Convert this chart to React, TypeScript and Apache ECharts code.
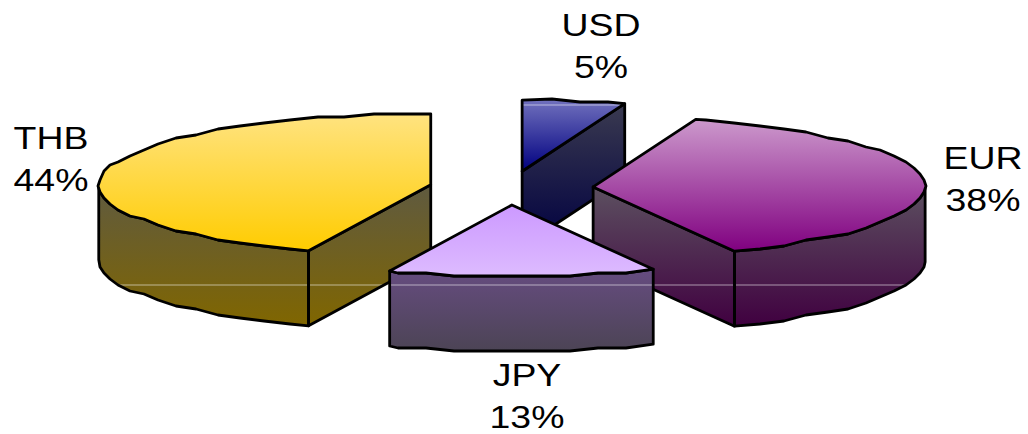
import React, { useEffect, useRef } from "react";
import * as echarts from "echarts";

// Currency split, clockwise from twelve o'clock.
const categories = ["USD", "EUR", "JPY", "THB"];
const shares = [5, 38, 13, 44];

// Back-to-front paint order of the exploded wedges, by category index.
const paintOrder = [0, 3, 1, 2];

// Projection of the tilted pie.
const PIE = { cx: 511.3, cy: 188, rx: 332, ry: 71, explodeX: 82, explodeY: 17, depth: 75 };
// Small sideways corrections of individual wedges.
const wedgeNudgeX: Record<string, number> = { USD: -2, EUR: 0, JPY: -2, THB: 0 };
// Coarse plotting grid that gives the rim its stepped outline.
const RIM = { stepDeg: 5, gridX: 2, gridY: 3 };
// Horizontal seams left in the gradient fills.
const SEAM_YS = [105, 285];

const LABEL_SCALE_X = 1.17;
const labelLineGap = 42;
const labelAnchors: Record<string, [number, number]> = {
  USD: [601, 46],
  EUR: [983, 179],
  JPY: [527, 396],
  THB: [51, 159],
};

const palette: Record<string, { top: [string, string]; side: [string, string] }> = {
  USD: { top: ["#7272BE", "#000080"], side: ["#3A3A50", "#000040"] },
  EUR: { top: ["#CC99CC", "#800080"], side: ["#5C5060", "#400040"] },
  JPY: { top: ["#CC99FF", "#DDBBFF"], side: ["#664C80", "#4C4455"] },
  THB: { top: ["#FFE380", "#FFCC00"], side: ["#5F5A40", "#806600"] },
};

type Pt = [number, number];
const rad = (d: number) => (d * Math.PI) / 180;

function rimPoints(cx: number, cy: number, from: number, to: number, dy = 0): Pt[] {
  const pts: Pt[] = [];
  const at = (t: number): Pt => [cx + PIE.rx * Math.sin(rad(t)), cy - PIE.ry * Math.cos(rad(t))];
  pts.push(at(from));
  const first = Math.ceil((from + 1) / RIM.stepDeg) * RIM.stepDeg;
  for (let t = first; t < to - 1; t += RIM.stepDeg) {
    const [x, y] = at(t);
    pts.push([Math.round(x / RIM.gridX) * RIM.gridX, Math.round(y / RIM.gridY) * RIM.gridY]);
  }
  pts.push(at(to));
  return pts.map(([x, y]) => [x, y + dy] as Pt);
}

function crossing(poly: Pt[], y: number): [number, number] | null {
  let lo = Infinity;
  let hi = -Infinity;
  poly.forEach((a, i) => {
    const b = poly[(i + 1) % poly.length];
    if ((a[1] - y) * (b[1] - y) <= 0 && a[1] !== b[1]) {
      const x = a[0] + ((y - a[1]) / (b[1] - a[1])) * (b[0] - a[0]);
      lo = Math.min(lo, x);
      hi = Math.max(hi, x);
    }
  });
  return hi > lo ? [lo, hi] : null;
}

const fillOf = (polys: Pt[][], stops: [string, string]) => {
  const ys = polys.flat().map((p) => p[1]);
  return new echarts.graphic.LinearGradient(
    0,
    Math.min(...ys),
    0,
    Math.max(...ys),
    [
      { offset: 0, color: stops[0] },
      { offset: 1, color: stops[1] },
    ],
    true
  );
};

function renderWedge(_params: any, api: any) {
  const index = api.value(0);
  const total = shares.reduce((a, b) => a + b, 0);
  const before = shares.slice(0, index).reduce((a, b) => a + b, 0);
  const start = (before / total) * 360;
  const end = ((before + api.value(1)) / total) * 360;
  const mid = (start + end) / 2;
  const name = categories[index];
  const cx = PIE.cx + PIE.explodeX * Math.sin(rad(mid)) + wedgeNudgeX[name];
  const cy = PIE.cy - PIE.explodeY * Math.cos(rad(mid));
  const colors = palette[name];
  const d = PIE.depth;
  const tip = (t: number): Pt => [cx + PIE.rx * Math.sin(rad(t)), cy - PIE.ry * Math.cos(rad(t))];

  // Faces turned towards the viewer: cut faces and the front part of the rim.
  const sides: Pt[][] = [];
  const cutFace = (t: number): Pt[] => {
    const p = tip(t);
    return [[cx, cy], p, [p[0], p[1] + d], [cx, cy + d]];
  };
  if (Math.sin(rad(start)) < -1e-6) sides.push(cutFace(start));
  if (Math.sin(rad(end)) > 1e-6) sides.push(cutFace(end));
  const frontFrom = Math.max(start, 90);
  const frontTo = Math.min(end, 270);
  if (frontTo > frontFrom) {
    const upper = rimPoints(cx, cy, frontFrom, frontTo);
    const lower = rimPoints(cx, cy, frontFrom, frontTo, d);
    sides.push([...upper, ...lower.reverse()]);
  }
  const topFace: Pt[] = [[cx, cy], ...rimPoints(cx, cy, start, end)];

  const base = paintOrder.indexOf(index) * 10;
  const children: any[] = [];
  const outline = { stroke: "#000", lineWidth: 2.8, lineJoin: "round" };
  const sideFill = sides.length ? fillOf(sides, colors.side) : null;

  sides.forEach((points) =>
    children.push({
      type: "polygon",
      z2: base,
      shape: { points },
      style: { fill: sideFill, stroke: null },
    })
  );
  children.push({
    type: "polygon",
    z2: base + 3,
    shape: { points: topFace },
    style: { fill: fillOf([topFace], colors.top), stroke: null },
  });
  [...sides, topFace].forEach((points) => {
    SEAM_YS.forEach((y) => {
      const span = crossing(points, y);
      if (span) {
        children.push({
          type: "line",
          z2: points === topFace ? base + 4 : base + 1,
          shape: { x1: span[0], y1: y, x2: span[1], y2: y },
          style: { stroke: "rgba(255,255,255,0.55)", lineWidth: 1 },
        });
      }
    });
  });
  sides.forEach((points) =>
    children.push({
      type: "polygon",
      z2: base + 2,
      shape: { points },
      style: { fill: "none", ...outline },
    })
  );
  children.push({
    type: "polygon",
    z2: base + 5,
    shape: { points: topFace },
    style: { fill: "none", ...outline },
  });

  // Category and share, set on two lines next to the wedge.
  const [lx, ly] = labelAnchors[name];
  [name, `${api.value(1)}%`].forEach((text, line) =>
    children.push({
      type: "text",
      z2: 100,
      x: lx,
      y: ly + line * labelLineGap - labelLineGap / 2,
      scaleX: LABEL_SCALE_X,
      style: {
        text,
        fill: "#000",
        font: '32px "Liberation Sans", Arial, sans-serif',
        textAlign: "center",
        textVerticalAlign: "middle",
      },
    })
  );
  return { type: "group", children };
}

export default function App() {
  const ref = useRef<HTMLDivElement>(null);
  useEffect(() => {
    document.body.style.margin = "0";
    const chart = echarts.init(ref.current!, undefined, { renderer: "svg" });
    chart.setOption({
      animation: false,
      backgroundColor: "#fff",
      series: [
        {
          type: "custom",
          coordinateSystem: "none",
          clip: false,
          silent: true,
          data: shares.map((v, i) => [i, v]),
          renderItem: renderWedge,
        },
      ],
    });
    return () => chart.dispose();
  }, []);
  return <div ref={ref} style={{ width: 1028, height: 434, overflow: "hidden" }} />;
}
